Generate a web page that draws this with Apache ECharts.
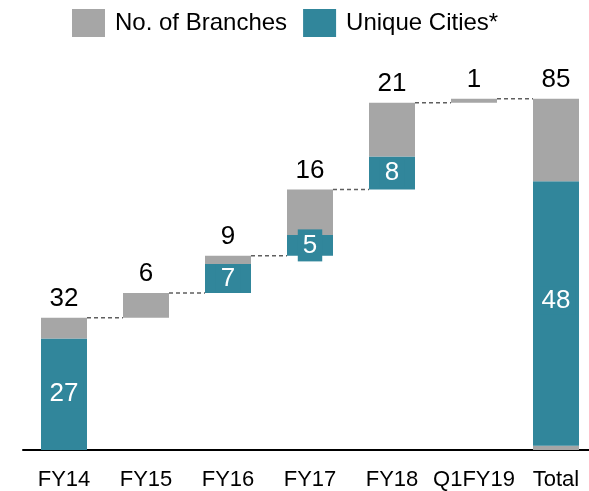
<!DOCTYPE html>
<html>
<head>
<meta charset="utf-8">
<script src="https://cdn.jsdelivr.net/npm/echarts@6/dist/echarts.min.js"></script>
<style>
  html, body { margin: 0; padding: 0; background: #fff; }
  #chart { width: 589px; height: 491px; }
</style>
</head>
<body>
<div id="chart"></div>
<script>
// categories + read-off values
const categories = ['FY14', 'FY15', 'FY16', 'FY17', 'FY18', 'Q1FY19', 'Total'];
const baseValues = [0, 32, 38, 47, 63, 84, 0];      // invisible offset
const grayBottom = [0, 0, 0, 0, 0, 0, 1];           // thin grey strip under total
const tealValues = [27, 0, 7, 5, 8, 0, 64];         // drawn height of teal part
const grayValues = [5, 6, 2, 11, 13, 1, 20];        // grey part on top
const branchLabels = ['32', '6', '9', '16', '21', '1', '85'];
const cityLabels = ['27', '', '7', '5', '8', '', '48'];
const connectorLevels = [32, 38, 47, 63, 84, 85];

const TEAL = '#31869B';
const GRAY = '#A6A6A6';
const FONT = '"Liberation Sans", Arial, sans-serif';
const BAR_W = 46;

const chart = echarts.init(document.getElementById('chart'));

const tealData = tealValues.map(function (v, i) {
  const item = { value: v };
  if (!cityLabels[i]) item.label = { show: false };
  if (i === 3) item.label = { padding: [3, 5] };      // FY17 box sticks out of the bar
  if (i === 6) item.label = { offset: [0, -13] };
  return item;
});

chart.setOption({
  animation: false,
  textStyle: { fontFamily: FONT },
  legend: {
    left: 72,
    top: 9,
    padding: 0,
    itemWidth: 33,
    itemHeight: 28,
    itemGap: 16,
    icon: 'rect',
    data: ['No. of Branches', 'Unique Cities*'],
    textStyle: { fontSize: 24, color: '#000', fontFamily: FONT, padding: [0, 0, 0, 5] }
  },
  grid: { left: 23, width: 574, top: 78, bottom: 41, outerBoundsMode: 'none' },
  xAxis: {
    type: 'category',
    data: categories,
    axisLine: { lineStyle: { color: '#000', width: 2 } },
    axisTick: { show: false },
    axisLabel: { interval: 0, fontSize: 22, color: '#000', margin: 19, fontFamily: FONT }
  },
  yAxis: {
    type: 'value',
    min: 0,
    max: 90,
    show: false,
    splitLine: { show: false }
  },
  series: [
    {
      name: 'base',
      type: 'bar',
      stack: 'w',
      barWidth: BAR_W,
      itemStyle: { color: 'transparent' },
      silent: true,
      data: baseValues
    },
    {
      name: 'grayBottom',
      type: 'bar',
      stack: 'w',
      barWidth: BAR_W,
      itemStyle: { color: GRAY },
      data: grayBottom
    },
    {
      name: 'Unique Cities*',
      type: 'bar',
      stack: 'w',
      barWidth: BAR_W,
      itemStyle: { color: TEAL },
      label: {
        show: true,
        position: 'inside',
        color: '#fff',
        fontSize: 26,
        fontFamily: FONT,
        backgroundColor: TEAL,
        padding: [1, 5],
        formatter: function (p) { return cityLabels[p.dataIndex]; }
      },
      data: tealData
    },
    {
      name: 'No. of Branches',
      type: 'bar',
      stack: 'w',
      barWidth: BAR_W,
      itemStyle: { color: GRAY },
      label: {
        show: true,
        position: 'top',
        distance: 6,
        color: '#000',
        fontSize: 26,
        fontFamily: FONT,
        formatter: function (p) { return branchLabels[p.dataIndex]; }
      },
      data: grayValues
    },
    {
      name: 'connectors',
      type: 'custom',
      silent: true,
      z: 3,
      renderItem: function (params, api) {
        const i = api.value(0);
        const v = api.value(1);
        const a = api.coord([i, v]);
        const b = api.coord([i + 1, v]);
        return {
          type: 'line',
          shape: { x1: a[0] + BAR_W / 2, y1: a[1], x2: b[0] - BAR_W / 2, y2: b[1] },
          style: { stroke: '#5f5f5f', lineWidth: 1.5, lineDash: [4, 3] }
        };
      },
      data: connectorLevels.map(function (v, i) { return [i, v]; })
    }
  ]
});
</script>
</body>
</html>
